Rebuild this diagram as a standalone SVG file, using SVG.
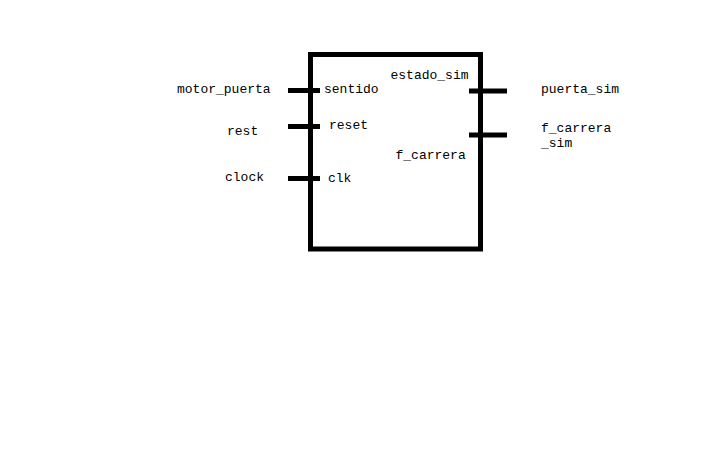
<svg xmlns="http://www.w3.org/2000/svg" width="707" height="460" viewBox="0 0 707 460">
<style>
.t{font-family:"Liberation Mono","DejaVu Sans Mono",monospace;font-size:13px;fill:#000}
.pin{stroke:#000;stroke-width:5;fill:none}
</style>
<rect width="707" height="460" fill="#fff"/>
<g id="block">
<rect x="310.5" y="54.5" width="170" height="194.5" fill="none" stroke="#000" stroke-width="5"/>
<text class="t" x="324" y="93">sentido</text>
<text class="t" x="329" y="128.5">reset</text>
<text class="t" x="328" y="182">clk</text>
<text class="t" x="390.5" y="78.5">estado_sim</text>
<text class="t" x="395.5" y="158.5">f_carrera</text>
</g>
<g id="connectors">
<line class="pin" x1="288" y1="90.5" x2="320" y2="90.5"/>
<line class="pin" x1="288" y1="126.5" x2="320" y2="126.5"/>
<line class="pin" x1="288" y1="178.5" x2="320" y2="178.5"/>
<line class="pin" x1="469" y1="91" x2="507" y2="91"/>
<line class="pin" x1="469" y1="135" x2="507" y2="135"/>
</g>
<g id="in_motor_puerta"><text class="t" x="177" y="93">motor_puerta</text></g>
<g id="in_rest"><text class="t" x="227" y="135">rest</text></g>
<g id="in_clock"><text class="t" x="225" y="181">clock</text></g>
<g id="out_puerta_sim"><text class="t" x="541" y="93">puerta_sim</text></g>
<g id="out_f_carrera_sim"><text class="t" x="541" y="132">f_carrera</text><text class="t" x="541" y="146.5">_sim</text></g>
</svg>
